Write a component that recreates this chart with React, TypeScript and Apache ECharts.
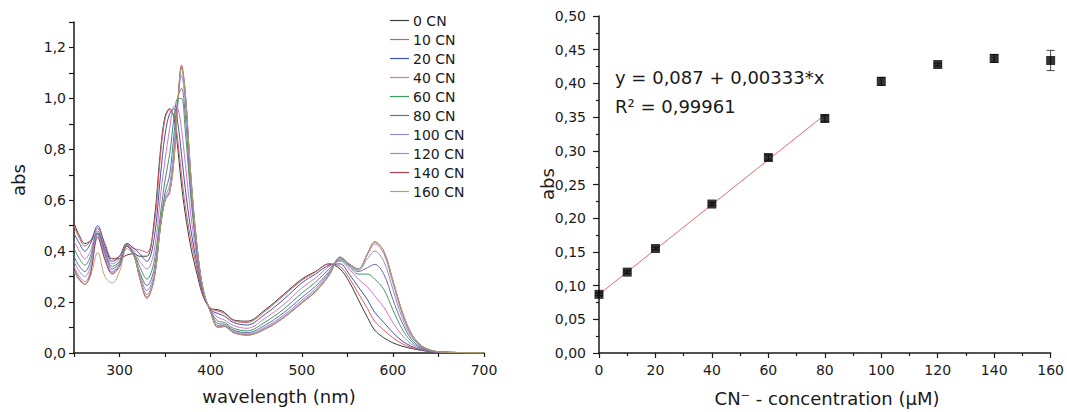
import React, { useEffect, useRef } from "react";
import * as echarts from "echarts";

// ---------- Left chart: UV-vis spectra ----------
const wavelengths = [250, 256, 262, 268, 276, 284, 292, 300, 308, 316, 322, 330, 338, 345, 350, 355, 360, 364, 368, 372, 378, 385, 392, 400, 408, 415, 425, 440, 460, 480, 500, 515, 530, 542, 552, 562, 572, 580, 590, 600, 610, 620, 630, 640, 650, 670, 700];

const cn0 = [0.51, 0.46, 0.43, 0.44, 0.47, 0.41, 0.37, 0.37, 0.385, 0.39, 0.38, 0.38, 0.52, 0.80, 0.93, 0.96, 0.92, 0.80, 0.66, 0.55, 0.42, 0.31, 0.22, 0.175, 0.17, 0.16, 0.13, 0.125, 0.17, 0.23, 0.29, 0.32, 0.35, 0.33, 0.28, 0.21, 0.14, 0.09, 0.06, 0.04, 0.027, 0.018, 0.011, 0.006, 0.003, 0.002, 0.001];
const cn10 = [0.50, 0.45, 0.42, 0.44, 0.49, 0.43, 0.37, 0.38, 0.43, 0.41, 0.405, 0.395, 0.50, 0.78, 0.92, 0.955, 0.93, 0.83, 0.70, 0.58, 0.45, 0.33, 0.225, 0.175, 0.165, 0.155, 0.127, 0.12, 0.165, 0.225, 0.285, 0.318, 0.35, 0.34, 0.295, 0.235, 0.175, 0.125, 0.09, 0.06, 0.037, 0.022, 0.012, 0.006, 0.003, 0.002, 0.001];
const cn20 = [0.47, 0.43, 0.40, 0.43, 0.50, 0.42, 0.36, 0.38, 0.43, 0.41, 0.39, 0.36, 0.45, 0.70, 0.86, 0.94, 0.96, 0.90, 0.78, 0.65, 0.49, 0.35, 0.23, 0.17, 0.155, 0.145, 0.12, 0.11, 0.153, 0.21, 0.275, 0.31, 0.345, 0.35, 0.31, 0.26, 0.21, 0.16, 0.12, 0.08, 0.048, 0.027, 0.014, 0.007, 0.003, 0.002, 0.001];
const cn40 = [0.44, 0.40, 0.37, 0.40, 0.49, 0.41, 0.35, 0.37, 0.425, 0.40, 0.36, 0.33, 0.40, 0.62, 0.76, 0.88, 0.97, 0.96, 0.88, 0.75, 0.55, 0.37, 0.235, 0.17, 0.14, 0.13, 0.108, 0.097, 0.137, 0.19, 0.255, 0.295, 0.34, 0.36, 0.33, 0.29, 0.26, 0.225, 0.18, 0.12, 0.07, 0.036, 0.017, 0.008, 0.004, 0.002, 0.001];
const cn60 = [0.41, 0.37, 0.345, 0.38, 0.48, 0.40, 0.34, 0.36, 0.425, 0.39, 0.34, 0.29, 0.36, 0.55, 0.68, 0.78, 0.93, 1.00, 1.00, 0.88, 0.62, 0.39, 0.24, 0.165, 0.125, 0.12, 0.097, 0.087, 0.122, 0.172, 0.235, 0.278, 0.33, 0.365, 0.34, 0.31, 0.31, 0.29, 0.25, 0.17, 0.095, 0.046, 0.02, 0.009, 0.004, 0.002, 0.001];
const cn80 = [0.38, 0.34, 0.32, 0.36, 0.47, 0.39, 0.33, 0.355, 0.42, 0.385, 0.32, 0.265, 0.33, 0.52, 0.63, 0.70, 0.87, 1.00, 1.04, 0.94, 0.65, 0.40, 0.24, 0.165, 0.115, 0.113, 0.09, 0.08, 0.11, 0.158, 0.218, 0.262, 0.32, 0.37, 0.345, 0.32, 0.335, 0.348, 0.31, 0.21, 0.12, 0.056, 0.024, 0.01, 0.004, 0.002, 0.001];
const cn100 = [0.36, 0.32, 0.30, 0.34, 0.465, 0.38, 0.32, 0.35, 0.42, 0.38, 0.31, 0.245, 0.31, 0.50, 0.61, 0.66, 0.82, 0.99, 1.09, 0.99, 0.68, 0.41, 0.245, 0.16, 0.108, 0.108, 0.085, 0.075, 0.102, 0.148, 0.207, 0.252, 0.315, 0.373, 0.348, 0.325, 0.37, 0.40, 0.36, 0.25, 0.14, 0.066, 0.028, 0.011, 0.005, 0.002, 0.001];
const cn120 = [0.34, 0.30, 0.28, 0.32, 0.46, 0.37, 0.315, 0.345, 0.42, 0.38, 0.30, 0.23, 0.30, 0.50, 0.60, 0.64, 0.79, 0.99, 1.12, 1.02, 0.70, 0.42, 0.245, 0.16, 0.104, 0.105, 0.082, 0.072, 0.097, 0.142, 0.20, 0.245, 0.31, 0.375, 0.35, 0.33, 0.385, 0.428, 0.39, 0.275, 0.155, 0.073, 0.031, 0.012, 0.005, 0.002, 0.001];
const cn140 = [0.33, 0.29, 0.27, 0.31, 0.455, 0.365, 0.31, 0.34, 0.42, 0.38, 0.295, 0.215, 0.29, 0.50, 0.60, 0.63, 0.77, 0.99, 1.13, 1.03, 0.71, 0.42, 0.245, 0.16, 0.10, 0.104, 0.08, 0.07, 0.094, 0.138, 0.196, 0.24, 0.305, 0.377, 0.35, 0.33, 0.39, 0.437, 0.40, 0.285, 0.165, 0.078, 0.033, 0.013, 0.005, 0.002, 0.001];
const cn160 = [0.32, 0.285, 0.27, 0.30, 0.395, 0.30, 0.275, 0.32, 0.41, 0.38, 0.30, 0.22, 0.29, 0.50, 0.60, 0.63, 0.77, 0.98, 1.12, 1.03, 0.71, 0.42, 0.245, 0.16, 0.10, 0.104, 0.08, 0.07, 0.094, 0.138, 0.196, 0.24, 0.305, 0.377, 0.35, 0.33, 0.39, 0.434, 0.40, 0.285, 0.165, 0.078, 0.033, 0.013, 0.005, 0.002, 0.001];

const spectraNames = ["0 CN", "10 CN", "20 CN", "40 CN", "60 CN", "80 CN", "100 CN", "120 CN", "140 CN", "160 CN"];
const spectraValues = [cn0, cn10, cn20, cn40, cn60, cn80, cn100, cn120, cn140, cn160];
const spectraColors = ["#3c3c3c", "#e05a5a", "#3a55b0", "#d074c8", "#3c9a60", "#6a6aa8", "#8e8ed0", "#b484c4", "#a8404e", "#a8a874"];

// ---------- Right chart: calibration ----------
const concX = [0, 10, 20, 40, 60, 80, 100, 120, 140, 160];
const concAbs = [0.087, 0.12, 0.155, 0.221, 0.29, 0.348, 0.403, 0.428, 0.437, 0.434];
const concErr = [0.002, 0.002, 0.002, 0.002, 0.004, 0.005, 0.006, 0.002, 0.006, 0.015];
const fitX = [0, 80];
const fitY = [0.087, 0.3534];

const FONT = "'DejaVu Sans', sans-serif";
const INK = "#1a1a1a";

export default function App() {
  const ref = useRef<HTMLDivElement>(null);

  useEffect(() => {
    if (!ref.current) return;
    const chart = echarts.init(ref.current, undefined, { renderer: "svg" });

    const axisLine = { show: true, lineStyle: { color: INK, width: 1.5 } };
    const labelStyle = { color: INK, fontSize: 14, fontFamily: FONT };
    const tickLine = { color: INK, width: 1.2 };

    const spectraSeries = spectraNames.map((name, k) => ({
      name,
      type: "line",
      xAxisIndex: 0,
      yAxisIndex: 0,
      data: wavelengths.map((w, i) => [w, spectraValues[k][i]]),
      smooth: 0.35,
      showSymbol: false,
      symbol: "none",
      lineStyle: { width: 1, color: spectraColors[k] },
      itemStyle: { color: spectraColors[k] },
      silent: true,
    }));

    const option: any = {
      animation: false,
      backgroundColor: "#ffffff",
      textStyle: { fontFamily: FONT },
      legend: {
        data: spectraNames,
        orient: "vertical",
        left: 390,
        top: 11,
        padding: 0,
        icon: "rect",
        itemWidth: 19,
        itemHeight: 1.2,
        itemGap: 0,
        textStyle: { fontSize: 14, color: INK, fontFamily: FONT, lineHeight: 19, padding: [0, 0, 0, -1] },
        selectedMode: false,
      },
      grid: [
        { left: 74, top: 22, width: 410, height: 331 },
        { left: 599, top: 16, width: 457, height: 337 },
      ],
      xAxis: [
        {
          type: "value",
          gridIndex: 0,
          min: 250,
          max: 700,
          interval: 50,
          axisLine,
          axisTick: { show: true, length: 4, lineStyle: tickLine },
          splitLine: { show: false },
          axisLabel: {
            ...labelStyle,
            margin: 10,
            formatter: (v: number) => (Math.round(v) % 100 === 0 ? String(v) : ""),
          },
        },
        {
          type: "value",
          gridIndex: 1,
          min: 0,
          max: 160,
          interval: 20,
          axisLine,
          axisTick: { show: true, length: 5, lineStyle: tickLine },
          minorTick: { show: true, splitNumber: 2, length: 3, lineStyle: tickLine },
          splitLine: { show: false },
          axisLabel: { ...labelStyle, margin: 10, formatter: (v: number) => String(v) },
        },
      ],
      yAxis: [
        {
          type: "value",
          gridIndex: 0,
          min: 0,
          max: 1.3,
          interval: 0.1,
          axisLine,
          axisTick: { show: true, length: 5, lineStyle: tickLine },
          splitLine: { show: false },
          axisLabel: {
            ...labelStyle,
            margin: 8,
            formatter: (v: number) => {
              const t = Math.round(v * 10);
              return t % 2 === 0 && t <= 12 ? (t / 10).toFixed(1).replace(".", ",") : "";
            },
          },
        },
        {
          type: "value",
          gridIndex: 1,
          min: 0,
          max: 0.5,
          interval: 0.05,
          axisLine,
          axisTick: { show: true, length: 6, lineStyle: tickLine },
          minorTick: { show: true, splitNumber: 2, length: 3, lineStyle: tickLine },
          splitLine: { show: false },
          axisLabel: {
            ...labelStyle,
            margin: 13,
            formatter: (v: number) => v.toFixed(2).replace(".", ","),
          },
        },
      ],
      series: [
        ...spectraSeries,
        {
          name: "fit",
          type: "line",
          xAxisIndex: 1,
          yAxisIndex: 1,
          data: fitX.map((x, i) => [x, fitY[i]]),
          showSymbol: false,
          symbol: "none",
          lineStyle: { color: "#e46a6a", width: 1 },
          silent: true,
          z: 2,
        },
        {
          name: "err",
          type: "custom",
          xAxisIndex: 1,
          yAxisIndex: 1,
          data: concX.map((x, i) => [x, concAbs[i], concErr[i]]),
          encode: { x: 0, y: 1 },
          clip: false,
          silent: true,
          z: 3,
          renderItem: (_params: any, api: any) => {
            const x = api.value(0);
            const y = api.value(1);
            const e = api.value(2);
            const top = api.coord([x, y + e]);
            const bot = api.coord([x, y - e]);
            const hw = 4;
            const st = { stroke: "#444", lineWidth: 1 };
            return {
              type: "group",
              children: [
                { type: "line", shape: { x1: top[0], y1: top[1], x2: bot[0], y2: bot[1] }, style: st },
                { type: "line", shape: { x1: top[0] - hw, y1: top[1], x2: top[0] + hw, y2: top[1] }, style: st },
                { type: "line", shape: { x1: bot[0] - hw, y1: bot[1], x2: bot[0] + hw, y2: bot[1] }, style: st },
              ],
            };
          },
        },
        {
          name: "points",
          type: "scatter",
          xAxisIndex: 1,
          yAxisIndex: 1,
          data: concX.map((x, i) => [x, concAbs[i]]),
          symbol: "rect",
          symbolSize: 9,
          itemStyle: { color: "#000000" },
          silent: true,
          z: 4,
        },
      ],
      graphic: [
        {
          type: "text",
          x: 18,
          y: 180,
          rotation: Math.PI / 2,
          style: { text: "abs", font: `18px ${FONT}`, fill: INK, align: "center", verticalAlign: "middle" },
        },
        {
          type: "text",
          x: 279,
          y: 396,
          style: { text: "wavelength (nm)", font: `18px ${FONT}`, fill: INK, align: "center", verticalAlign: "middle" },
        },
        {
          type: "text",
          x: 547,
          y: 184,
          rotation: Math.PI / 2,
          style: { text: "abs", font: `18px ${FONT}`, fill: INK, align: "center", verticalAlign: "middle" },
        },
        {
          type: "text",
          x: 827,
          y: 398,
          style: { text: "CN\u207B - concentration (\u03BCM)", font: `18px ${FONT}`, fill: INK, align: "center", verticalAlign: "middle" },
        },
        {
          type: "text",
          x: 615,
          y: 77,
          style: { text: "y = 0,087 + 0,00333*x", font: `18px ${FONT}`, fill: INK, align: "left", verticalAlign: "middle" },
        },
        {
          type: "text",
          x: 615,
          y: 106,
          style: { text: "R\u00B2 = 0,99961", font: `18px ${FONT}`, fill: INK, align: "left", verticalAlign: "middle" },
        },
      ],
    };

    chart.setOption(option);
    return () => chart.dispose();
  }, []);

  return (
    <div
      ref={ref}
      style={{ position: "fixed", left: 0, top: 0, width: 1067, height: 412, background: "#fff" }}
    />
  );
}
